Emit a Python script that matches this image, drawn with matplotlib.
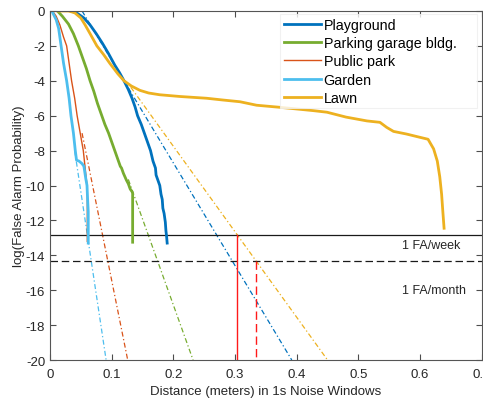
import matplotlib
matplotlib.use('Agg')
import matplotlib.pyplot as plt
import numpy as np

plt.rcParams['font.family'] = ['Liberation Sans', 'DejaVu Sans']
plt.rcParams['axes.unicode_minus'] = False

# measured curves: distance (m) vs log(false alarm probability)
playground_x = [0.034, 0.045, 0.055, 0.065, 0.075, 0.085, 0.095, 0.105, 0.113, 0.120, 0.127,
                0.133, 0.138, 0.142, 0.148, 0.153, 0.158, 0.163, 0.165, 0.167, 0.171, 0.172,
                0.174, 0.178, 0.180, 0.182, 0.183, 0.185, 0.187, 0.188, 0.189, 0.190]
playground_y = [0.0, -0.15, -0.4, -0.8, -1.3, -1.85, -2.45, -3.1, -3.55, -4.0, -4.5,
                -5.0, -5.5, -6.0, -6.5, -7.0, -7.5, -8.0, -8.3, -8.6, -9.0, -9.4,
                -9.6, -10.0, -10.5, -10.8, -11.3, -11.6, -12.1, -12.6, -12.9, -13.3]

parking_x = [0.012, 0.020, 0.030, 0.038, 0.046, 0.052, 0.059, 0.065, 0.071, 0.077, 0.080,
             0.084, 0.089, 0.095, 0.100, 0.103, 0.105, 0.109, 0.114, 0.116, 0.119, 0.124,
             0.127, 0.130, 0.133, 0.134, 0.134]
parking_y = [0.0, -0.3, -0.75, -1.3, -2.0, -2.6, -3.3, -4.0, -4.6, -5.3, -5.6,
             -6.0, -6.5, -7.0, -7.5, -7.8, -8.0, -8.4, -8.9, -9.0, -9.3, -9.7,
             -9.9, -10.2, -10.35, -10.45, -13.25]

park_x = [0.004, 0.010, 0.016, 0.022, 0.027, 0.031, 0.035, 0.040, 0.044, 0.049, 0.054,
          0.057, 0.060, 0.0605, 0.0605]
park_y = [0.0, -0.3, -0.8, -1.5, -2.0, -3.0, -4.0, -5.0, -6.0, -7.0, -8.0,
          -9.0, -10.0, -10.5, -13.2]

garden_x = [0.003, 0.010, 0.014, 0.018, 0.022, 0.027, 0.031, 0.034, 0.038, 0.041, 0.043,
            0.047, 0.052, 0.055, 0.058, 0.060, 0.061, 0.062, 0.062]
garden_y = [0.0, -0.5, -1.0, -2.0, -3.0, -4.0, -5.0, -6.0, -7.0, -8.0, -8.55,
            -8.6, -8.75, -8.9, -9.6, -10.0, -10.8, -11.5, -13.3]

lawn_x = [0.013, 0.030, 0.040, 0.050, 0.057, 0.065, 0.076, 0.087, 0.097, 0.110, 0.120,
          0.132, 0.146, 0.160, 0.178, 0.211, 0.254, 0.280, 0.308, 0.335, 0.373, 0.427,
          0.449, 0.480, 0.514, 0.535, 0.546, 0.557, 0.578, 0.600, 0.613, 0.622, 0.628,
          0.632, 0.635, 0.637, 0.639]
lawn_y = [0.0, 0.0, -0.1, -0.4, -0.8, -1.3, -2.0, -2.5, -3.0, -3.6, -4.0,
          -4.3, -4.55, -4.7, -4.8, -4.9, -5.0, -5.1, -5.2, -5.4, -5.52, -5.71,
          -5.8, -6.08, -6.3, -6.38, -6.67, -6.9, -7.05, -7.24, -7.35, -7.9, -8.6,
          -9.5, -10.5, -11.5, -12.45]

# extrapolated tails (start/end points)
fit_playground = ([0.052, 0.392], [0.0, -20.0])
fit_parking = ([0.127, 0.232], [-9.65, -20.0])
fit_park = ([0.052, 0.126], [-7.0, -20.0])
fit_garden = ([0.040, 0.091], [-8.0, -20.0])
fit_lawn = ([0.131, 0.450], [-4.37, -20.0])

fa_week = -12.85
fa_month = -14.3
cross_week = 0.304
cross_month = 0.334

labels = ['Playground', 'Parking garage bldg.', 'Public park', 'Garden', 'Lawn']
colors = ['#0072BD', '#77AC30', '#D95319', '#4DBEEE', '#EDB120']

fig = plt.figure(figsize=(4.83, 4.02), dpi=100)
ax = fig.add_axes([50 / 483, 41 / 402, 431.7 / 483, 349 / 402])

dd = (0, (4, 2, 1, 2))
fits = [fit_playground, fit_parking, fit_park, fit_garden, fit_lawn]
for f, c in zip(fits, colors):
    ax.plot(f[0], f[1], color=c, lw=0.9, linestyle=dd)

ax.axhline(fa_week, color='#1a1a1a', lw=0.9)
ax.axhline(fa_month, color='#1a1a1a', lw=0.9, linestyle=(0, (6, 3)))
ax.plot([cross_week, cross_week], [fa_week, -20], color='#ff1a1a', lw=1)
ax.plot([cross_month, cross_month], [fa_month, -20], color='#ff1a1a', lw=1, linestyle=(0, (6, 3)))

ax.plot(playground_x, playground_y, color=colors[0], lw=2, label=labels[0])
ax.plot(parking_x, parking_y, color=colors[1], lw=2, label=labels[1])
ax.plot(park_x, park_y, color=colors[2], lw=1, label=labels[2])
ax.plot(garden_x, garden_y, color=colors[3], lw=2, label=labels[3])
ax.plot(lawn_x, lawn_y, color=colors[4], lw=2, label=labels[4])

ax.text(0.571, -13.4, '1 FA/week', fontsize=9, color='#262626', va='center', ha='left')
ax.text(0.571, -15.97, '1 FA/month', fontsize=9, color='#262626', va='center', ha='left')

ax.set_xlim(0, 0.7)
ax.set_ylim(-20, 0)
ax.set_xticks(np.arange(0, 0.71, 0.1))
ax.set_xticklabels(['0', '0.1', '0.2', '0.3', '0.4', '0.5', '0.6', '0.7'])
ax.set_yticks(np.arange(-20, 1, 2))
ax.tick_params(direction='in', top=True, right=True, length=4, width=0.8,
               colors='#4d4d4d', labelcolor='#262626', labelsize=9.5)
ax.tick_params(axis='x', pad=5.5)
for s in ax.spines.values():
    s.set_color('#555555')
    s.set_linewidth(0.8)

ax.set_xlabel('Distance (meters) in 1s Noise Windows', fontsize=9.5, color='#262626', labelpad=4)
ax.set_ylabel('log(False Alarm Probability)', fontsize=9.5, color='#262626', labelpad=0.5)

leg = ax.legend(loc='upper left', bbox_to_anchor=(0.533, 0.728, 0.455, 0.263), mode='expand',
                borderaxespad=0, fontsize=10.3, handlelength=2.6, handletextpad=0.2,
                labelspacing=0.3, frameon=True, fancybox=False, borderpad=0.25)
leg.get_frame().set_edgecolor('#eeeeee')
leg.get_frame().set_linewidth(0.8)

fig.savefig('out.png', dpi=100)
